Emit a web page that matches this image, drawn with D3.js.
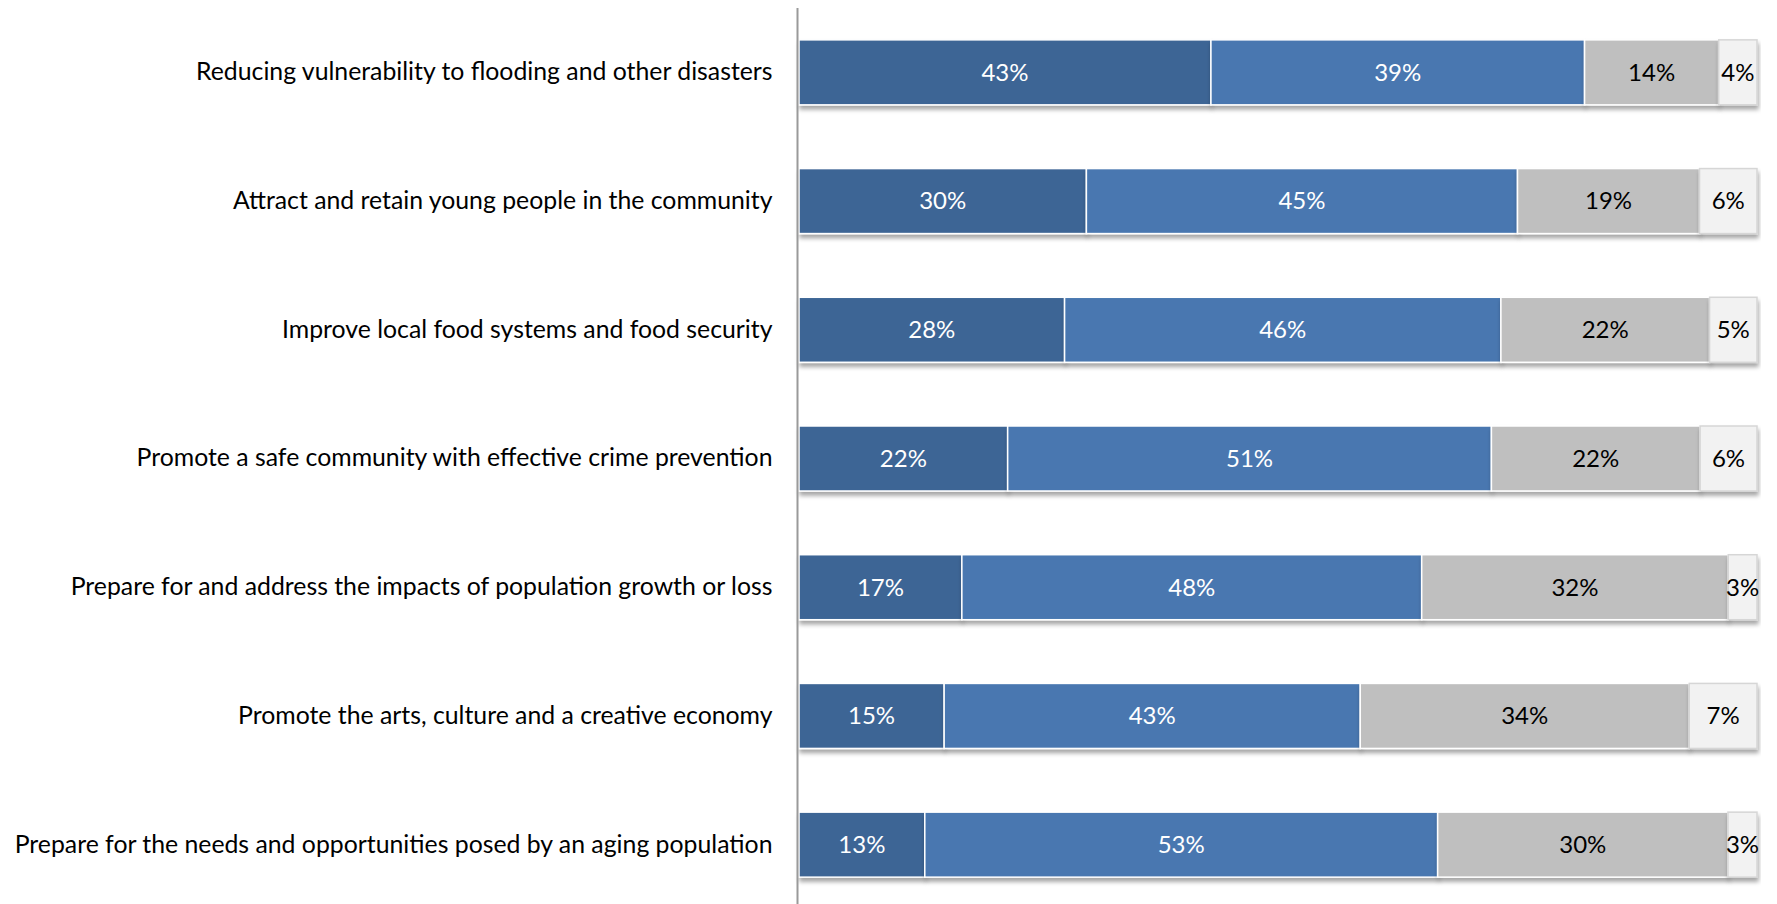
<!DOCTYPE html>
<html>
<head>
<meta charset="utf-8">
<script src="https://cdnjs.cloudflare.com/ajax/libs/d3/7.8.5/d3.min.js"></script>
<style>
  html, body { margin: 0; padding: 0; background: #fff; }
  svg { display: block; }
  text { font-family: Lato, "Open Sans", sans-serif; }
</style>
</head>
<body>
<svg id="chart" width="1777" height="904"></svg>
<script>
// *** Data ***
var categories = [
    "Reducing vulnerability to flooding and other disasters",
    "Attract and retain young people in the community",
    "Improve local food systems and food security",
    "Promote a safe community with effective crime prevention",
    "Prepare for and address the impacts of population growth or loss",
    "Promote the arts, culture and a creative economy",
    "Prepare for the needs and opportunities posed by an aging population"
];
var seriesKeys = ["s1", "s2", "s3", "s4"];
var s1 = [43, 30, 28, 22, 17, 15, 13];
var s2 = [39, 45, 46, 51, 48, 43, 53];
var s3 = [14, 19, 22, 22, 32, 34, 30];
var s4 = [4, 6, 5, 6, 3, 7, 3];

var rows = categories.map(function (c, i) {
    return {category: c, s1: s1[i], s2: s2[i], s3: s3[i], s4: s4[i]};
});

// *** Chart ***
var chart = d3.select("#chart");

var x = d3.scaleLinear().domain([0, 1]).range([799, 1757]);
var y = d3.scaleBand()
    .domain(categories)
    .range([8, 909])
    .paddingInner(0.495)
    .paddingOuter(0.2475);

var fill = d3.scaleOrdinal().domain(seriesKeys)
    .range(["#3d6595", "#4877b0", "#bfbfbf", "#f2f2f2"]);
var stroke = d3.scaleOrdinal().domain(seriesKeys)
    .range(["#ffffff", "#ffffff", "#ffffff", "#d6d6d6"]);
var textColor = d3.scaleOrdinal().domain(seriesKeys)
    .range(["#ffffff", "#ffffff", "#000000", "#000000"]);

// drop shadow under the bars
var defs = chart.append("defs");
var shadow = defs.append("filter").attr("id", "shadow")
    .attr("x", "-5%").attr("y", "-20%").attr("width", "110%").attr("height", "150%");
shadow.append("feDropShadow")
    .attr("dx", 1).attr("dy", 4).attr("stdDeviation", 2)
    .attr("flood-color", "#000").attr("flood-opacity", 0.35);

var stack = d3.stack().keys(seriesKeys).offset(d3.stackOffsetExpand);
var stacked = stack(rows);

var barsG = chart.append("g");

var layers = barsG.selectAll(".layer")
    .data(stacked).enter().append("g")
    .attr("class", "layer")
    .attr("filter", "url(#shadow)");

layers.selectAll("rect")
    .data(d => d.map(p => ({key: d.key, p: p})))
    .enter().append("rect")
    .attr("x", d => x(d.p[0]))
    .attr("y", d => y(d.p.data.category))
    .attr("width", d => x(d.p[1]) - x(d.p[0]))
    .attr("height", y.bandwidth())
    .attr("fill", d => fill(d.key))
    .attr("stroke", d => stroke(d.key))
    .attr("stroke-width", 1.5);

var labelsG = chart.append("g");
stacked.forEach(function (layer) {
    labelsG.selectAll(".lbl-" + layer.key)
        .data(layer).enter().append("text")
        .attr("class", "lbl-" + layer.key)
        .attr("x", d => (x(d[0]) + x(d[1])) / 2)
        .attr("y", d => y(d.data.category) + y.bandwidth() / 2)
        .attr("dy", "0.35em")
        .attr("text-anchor", "middle")
        .attr("font-size", 24)
        .attr("fill", textColor(layer.key))
        .text(d => d.data[layer.key] + "%");
});

// category axis
var yAxisG = chart.append("g")
    .attr("transform", "translate(797.5,0)")
    .call(d3.axisLeft(y).tickSize(0).tickPadding(25));
yAxisG.select(".domain").remove();
yAxisG.selectAll("text")
    .attr("font-family", "Lato, 'Open Sans', sans-serif")
    .attr("font-size", 24.8)
    .attr("fill", "#000");

chart.append("line")
    .attr("x1", 797.5).attr("x2", 797.5)
    .attr("y1", 8).attr("y2", 904)
    .attr("stroke", "#9a9a9a")
    .attr("stroke-width", 2);
</script>
</body>
</html>
